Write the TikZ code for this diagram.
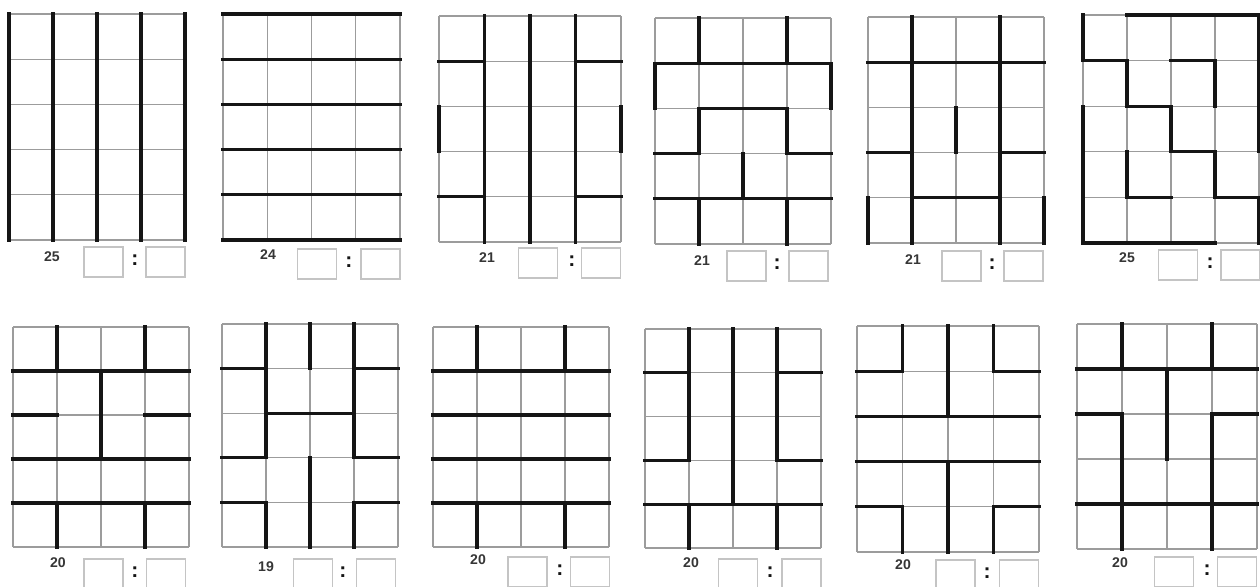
\documentclass[tikz,border=0pt]{standalone}
\usepackage{fontspec}
\setmainfont{Liberation Sans}
\definecolor{ink}{HTML}{151515}
\definecolor{rule}{HTML}{9C9C9C}
\definecolor{frame}{HTML}{C4C4C4}
\definecolor{digit}{HTML}{363636}
\tikzset{
  fine/.style={rule,line width=0.6pt},
  cut/.style={ink,line width=1.8pt,line cap=rect,line join=miter},
  board/.style n args={4}{shift={(#1,#2)},xscale={(#3-#1)/4},yscale={(#4-#2)/5}},
  cells/.pic={\foreach \i in {0,...,4} \draw[fine] (\i,0) -- (\i,5);
              \foreach \j in {0,...,5} \draw[fine] (0,\j) -- (4,\j);},
  num/.style={font=\fontsize{8}{9}\selectfont\bfseries,text=digit,inner sep=0pt},
  ans/.style={draw=frame,line width=0.7pt,minimum width=0.78cm,minimum height=0.6cm,inner sep=0pt},
  colon/.style={font=\fontsize{12}{13}\selectfont\bfseries,text=ink,inner sep=0pt}
}
\begin{document}
\begin{tikzpicture}[x=0.02cm,y=-0.02cm]
  \useasboundingbox[fill=white] (0,0) rectangle (1260,586);
  % first row
  \begin{scope}[board={9}{14}{185}{240}]
    \pic[transform shape] {cells};
    \foreach \i in {0,...,4} \draw[cut] (\i,0) -- (\i,5);
  \end{scope}
  \begin{scope}[board={223}{14}{400}{240}]
    \pic[transform shape] {cells};
    \foreach \j in {0,...,5} \draw[cut] (0,\j) -- (4,\j);
  \end{scope}
  \begin{scope}[board={439}{16}{621}{242}]
    \pic[transform shape] {cells};
    \draw[cut] (1,0) -- (1,5) (2,0) -- (2,5) (3,0) -- (3,5) (0,1) -- (1,1) (3,1) -- (4,1)
               (0,2) -- (0,3) (4,2) -- (4,3) (0,4) -- (1,4) (3,4) -- (4,4);
  \end{scope}
  \begin{scope}[board={655}{18}{831}{244}]
    \pic[transform shape] {cells};
    \draw[cut] (1,0) -- (1,1) (3,0) -- (3,1) (0,2) -- (0,1) -- (4,1) -- (4,2)
               (0,3) -- (1,3) -- (1,2) -- (3,2) -- (3,3) -- (4,3) (2,3) -- (2,4)
               (0,4) -- (4,4) (1,4) -- (1,5) (3,4) -- (3,5);
  \end{scope}
  \begin{scope}[board={868}{17}{1044}{243}]
    \pic[transform shape] {cells};
    \draw[cut] (1,0) -- (1,5) (3,0) -- (3,5) (0,1) -- (4,1) (2,2) -- (2,3) (0,3) -- (1,3)
               (3,3) -- (4,3) (1,4) -- (3,4) (0,4) -- (0,5) (4,4) -- (4,5);
  \end{scope}
  \begin{scope}[board={1083}{15}{1259}{243}]
    \pic[transform shape] {cells};
    \draw[cut] (0,0) -- (0,1) -- (1,1) -- (1,2) -- (2,2) -- (2,3) -- (3,3) -- (3,4) -- (4,4) -- (4,5)
               (1,0) -- (4,0) -- (4,3) (0,2) -- (0,5) -- (3,5) (2,1) -- (3,1) -- (3,2)
               (1,3) -- (1,4) -- (2,4);
  \end{scope}
  % second row
  \begin{scope}[board={13}{327}{189}{547}]
    \pic[transform shape] {cells};
    \draw[cut] (1,0) -- (1,1) (3,0) -- (3,1) (0,1) -- (4,1) (2,1) -- (2,3) (0,2) -- (1,2)
               (3,2) -- (4,2) (0,3) -- (4,3) (0,4) -- (4,4) (1,4) -- (1,5) (3,4) -- (3,5);
  \end{scope}
  \begin{scope}[board={222}{324}{398}{547}]
    \pic[transform shape] {cells};
    \draw[cut] (0,1) -- (1,1) (1,0) -- (1,3) -- (0,3) (2,0) -- (2,1) (4,1) -- (3,1)
               (3,0) -- (3,3) -- (4,3) (1,2) -- (3,2) (2,3) -- (2,5)
               (0,4) -- (1,4) -- (1,5) (4,4) -- (3,4) -- (3,5);
  \end{scope}
  \begin{scope}[board={433}{327}{609}{547}]
    \pic[transform shape] {cells};
    \draw[cut] (1,0) -- (1,1) (3,0) -- (3,1) (1,4) -- (1,5) (3,4) -- (3,5);
    \foreach \j in {1,...,4} \draw[cut] (0,\j) -- (4,\j);
  \end{scope}
  \begin{scope}[board={645}{329}{821}{548}]
    \pic[transform shape] {cells};
    \draw[cut] (0,1) -- (1,1) (1,0) -- (1,3) -- (0,3) (2,0) -- (2,4) (4,1) -- (3,1)
               (3,0) -- (3,3) -- (4,3) (0,4) -- (4,4) (1,4) -- (1,5) (3,4) -- (3,5);
  \end{scope}
  \begin{scope}[board={857}{326}{1039}{552}]
    \pic[transform shape] {cells};
    \draw[cut] (0,1) -- (1,1) -- (1,0) (2,0) -- (2,2) (3,0) -- (3,1) -- (4,1) (0,2) -- (4,2)
               (0,3) -- (4,3) (2,3) -- (2,5) (0,4) -- (1,4) -- (1,5) (4,4) -- (3,4) -- (3,5);
  \end{scope}
  \begin{scope}[board={1077}{324}{1257}{549}]
    \pic[transform shape] {cells};
    \draw[cut] (1,0) -- (1,1) (3,0) -- (3,1) (0,1) -- (4,1) (2,1) -- (2,3)
               (0,2) -- (1,2) -- (1,5) (4,2) -- (3,2) -- (3,5) (0,4) -- (4,4);
  \end{scope}
  % answer boxes
  \foreach \k/\nx/\ny/\ax/\cx/\bx/\by/\v in {1/52/257/103.5/135/165.5/262/25,
      2/268/255/317/349/380.5/264/24, 3/487/258/538/572/601/263/21,
      4/702/261/746.5/777/808.5/266/21, 5/913/260/961.5/992/1023.5/266/21,
      6/1127/258/1178/1210/1240.5/265/25, 7/58/563/103.5/135/166/574/20,
      8/266/567/313/343/376/574/19, 9/478/560/527.5/560/590/572/20,
      10/691/563/738/770/801.5/574/20, 11/903/565/955.5/987/1019/575/20,
      12/1120/563/1174/1207/1237/572/20} {
    \node[num] (n\k) at (\nx,\ny) {\v};
    \node[ans] (a\k) at (\ax,\by) {};
    \node[colon] (c\k) at (\cx,\by-2) {:};
    \node[ans] (b\k) at (\bx,\by) {};
  }
\end{tikzpicture}
\end{document}
